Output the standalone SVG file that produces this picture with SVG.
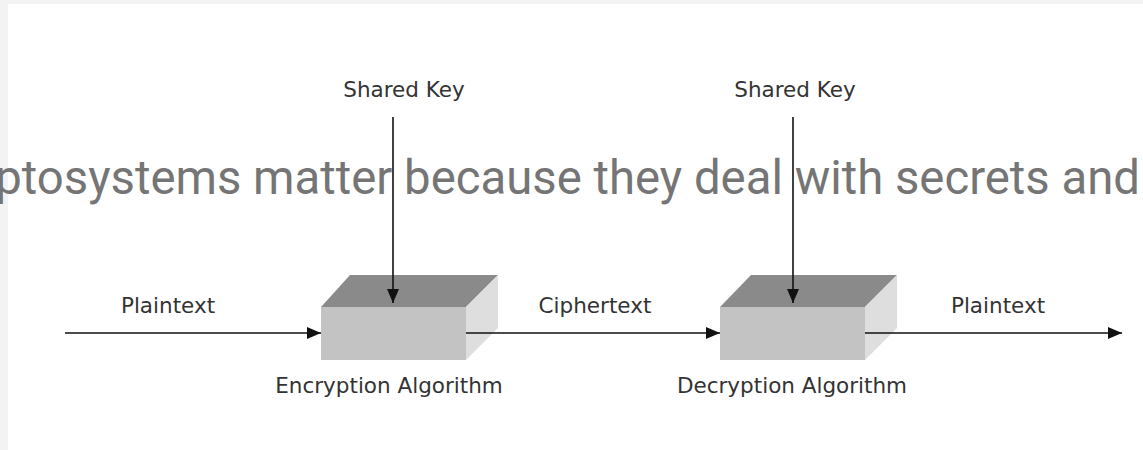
<svg xmlns="http://www.w3.org/2000/svg" width="1143" height="450" viewBox="0 0 1143 450">
<style>
.lbl{font-family:"DejaVu Sans","Open Sans",sans-serif;font-size:21.5px;fill:#333;}
.big{font-family:Roboto,"Noto Sans",sans-serif;font-size:47.3px;fill:#757575;}
.ln{stroke:#111;stroke-width:1.6;fill:none;}
.front{fill:#c3c3c3;}
.top{fill:#8a8a8a;}
.side{fill:#dedede;}
</style>
<defs>
<marker id="ah" markerWidth="14" markerHeight="12" refX="14" refY="6" orient="auto" markerUnits="userSpaceOnUse">
<path d="M0,0 L14,6 L0,12 Z" fill="#111"/>
</marker>
</defs>
<rect width="1143" height="450" fill="#ffffff"/>
<rect x="0" y="0" width="1143" height="4" fill="#f3f3f3"/>
<rect x="0" y="0" width="8" height="450" fill="#f3f3f3"/>
<text class="big" x="1140" y="194" text-anchor="end">ptosystems matter because they deal with secrets and</text>
<g id="encryption">
<polygon class="top" points="321,307 350,275 498,275 466,307"/>
<polygon class="side" points="466,307 498,275 498,328 466,360"/>
<rect class="front" x="321" y="307" width="145" height="53"/>
<text class="lbl" x="389" y="393" text-anchor="middle">Encryption Algorithm</text>
</g>
<g id="decryption">
<polygon class="top" points="720,307 751,275 897,275 865,307"/>
<polygon class="side" points="865,307 897,275 897,328 865,360"/>
<rect class="front" x="720" y="307" width="145" height="53"/>
<text class="lbl" x="792" y="393" text-anchor="middle">Decryption Algorithm</text>
</g>
<g id="key1"><text class="lbl" x="404" y="97" text-anchor="middle">Shared Key</text></g>
<g id="key2"><text class="lbl" x="795" y="97" text-anchor="middle">Shared Key</text></g>
<g id="labels">
<text class="lbl" x="168" y="313" text-anchor="middle">Plaintext</text>
<text class="lbl" x="595" y="313" text-anchor="middle">Ciphertext</text>
<text class="lbl" x="998" y="313" text-anchor="middle">Plaintext</text>
</g>
<g id="connectors">
<line class="ln" x1="65" y1="333" x2="321" y2="333" marker-end="url(#ah)"/>
<line class="ln" x1="466" y1="333" x2="720" y2="333" marker-end="url(#ah)"/>
<line class="ln" x1="865" y1="333" x2="1122" y2="333" marker-end="url(#ah)"/>
<line class="ln" x1="393" y1="117" x2="393" y2="303" marker-end="url(#ah)"/>
<line class="ln" x1="793" y1="117" x2="793" y2="303" marker-end="url(#ah)"/>
</g>
</svg>
